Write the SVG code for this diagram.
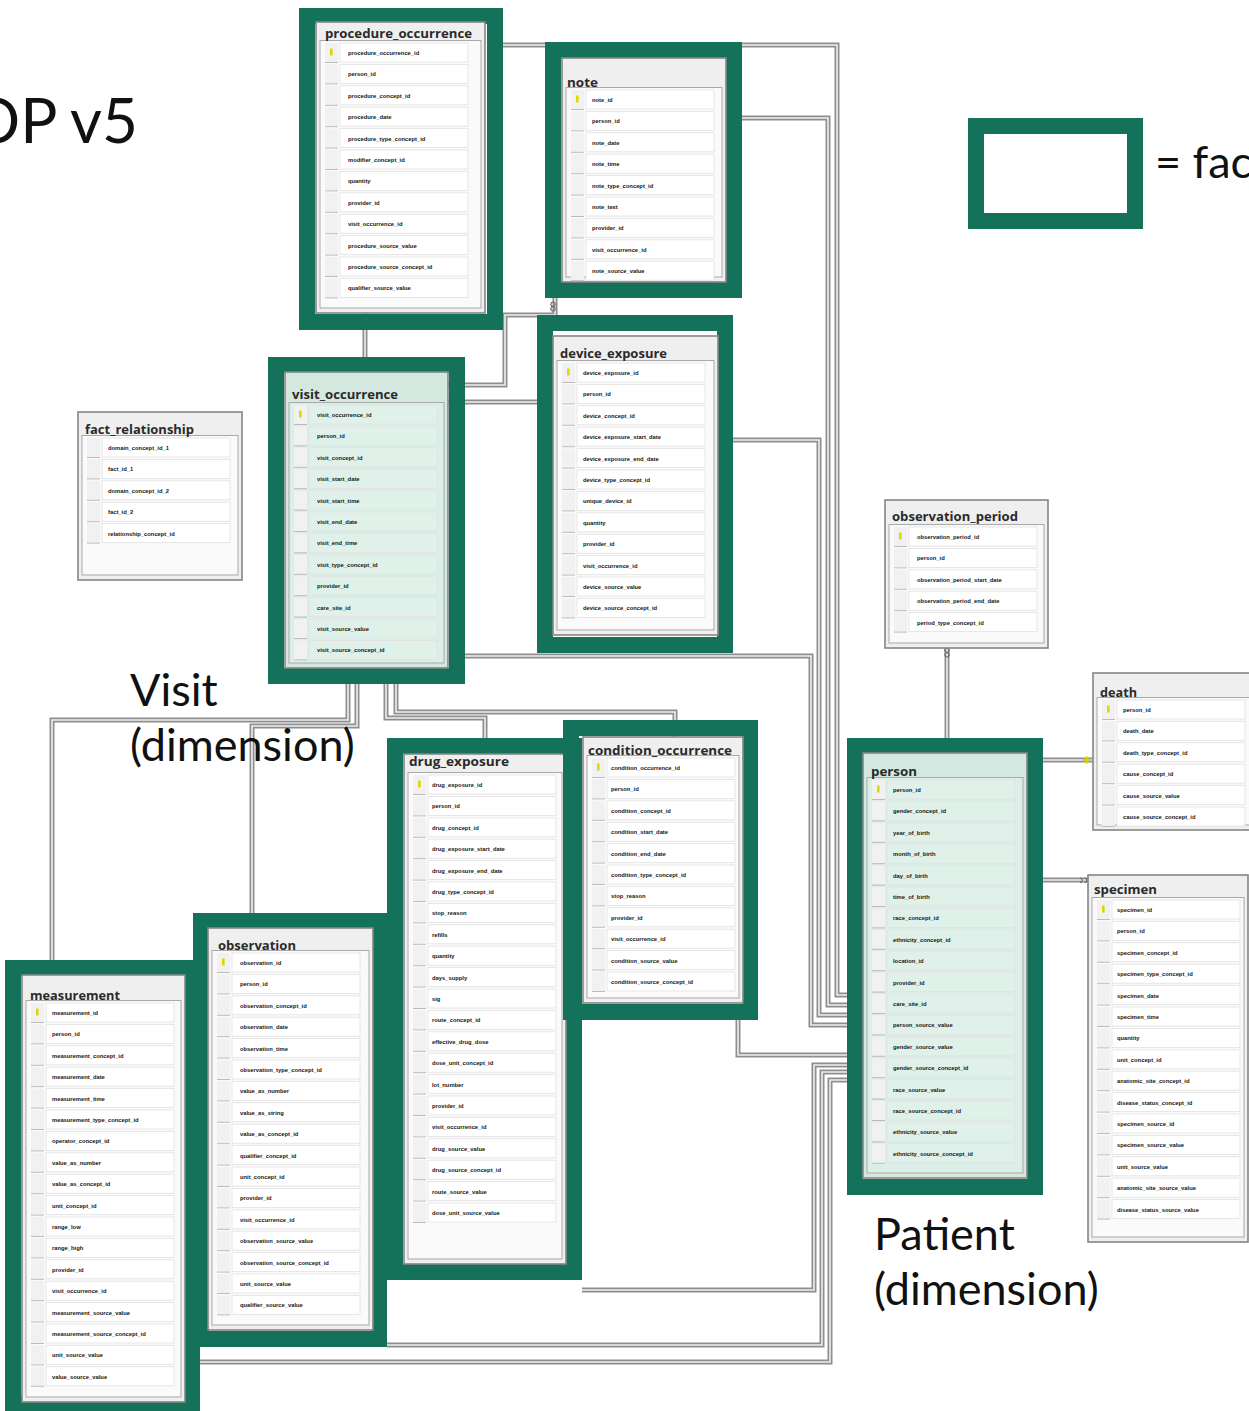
<svg xmlns="http://www.w3.org/2000/svg" xmlns:xlink="http://www.w3.org/1999/xlink" width="1249" height="1411" viewBox="0 0 1249 1411">
<style>
  .fr{fill:none;stroke:#15725a;stroke-width:16}
  .tb{fill:#efefef;stroke:#858585;stroke-width:1.6}
  .tbm{fill:#d3e8df;stroke:#858585;stroke-width:1.6}
  .ra{fill:#fafafa;stroke:#a9a9a9;stroke-width:1}
  .ram{fill:#dbeee7;stroke:#a9a9a9;stroke-width:1}
  .th{font-family:"Open Sans","Liberation Sans",sans-serif;font-weight:700;font-size:13px;fill:#2a2a2a}
  .c{font-family:"Liberation Sans",Arial,sans-serif;font-weight:700;font-size:5.8px;fill:#151515}
  .co{fill:none;stroke:#8e8e8e;stroke-width:5}
  .ci{fill:none;stroke:#efefef;stroke-width:1.6}
  .mk{fill:none;stroke:#6f6f6f;stroke-width:1.2}
  .big{font-family:Lato,"Liberation Sans",sans-serif;font-size:45px;fill:#111}
</style>
<defs>
  <g id="rw">
    <rect x="9" y="-10" width="13" height="19" fill="#f1f1f1"/>
    <path d="M9 9.5h13" stroke="#bcbcbc" stroke-width="1"/>
    <rect x="24" y="-10" width="128" height="19" stroke="#e1e1e1" stroke-width="0.8"/>
  </g>
  <g id="r5"><use href="#rw" y="0"/><use href="#rw" y="21.4"/><use href="#rw" y="42.8"/><use href="#rw" y="64.2"/><use href="#rw" y="85.6"/></g>
  <g id="r6"><use href="#r5"/><use href="#rw" y="107"/></g>
  <g id="r9"><use href="#r6"/><use href="#rw" y="128.4"/><use href="#rw" y="149.8"/><use href="#rw" y="171.2"/></g>
  <g id="r11"><use href="#r9"/><use href="#rw" y="192.6"/><use href="#rw" y="214"/></g>
  <g id="r12"><use href="#r11"/><use href="#rw" y="235.4"/></g>
  <g id="r15"><use href="#r12"/><use href="#rw" y="256.8"/><use href="#rw" y="278.2"/><use href="#rw" y="299.6"/></g>
  <g id="r17"><use href="#r15"/><use href="#rw" y="321"/><use href="#rw" y="342.4"/></g>
  <g id="r18"><use href="#r17"/><use href="#rw" y="363.8"/></g>
  <g id="r21"><use href="#r18"/><use href="#rw" y="385.2"/><use href="#rw" y="406.6"/><use href="#rw" y="428"/></g>
  <rect id="ky" x="14" y="-4.5" width="2.6" height="7" fill="#dcd800"/>
</defs>

<rect width="1249" height="1411" fill="#ffffff"/>

<!-- relationship lines -->
<g id="connectors">
  <path class="co" d="M503 45H837V995H863"/><path class="ci" d="M503 45H837V995H863"/>
  <path class="co" d="M742 118H828V1005H863"/><path class="ci" d="M742 118H828V1005H863"/>
  <path class="co" d="M733 440H819V1015H863"/><path class="ci" d="M733 440H819V1015H863"/>
  <path class="co" d="M465 656H811V1025H863"/><path class="ci" d="M465 656H811V1025H863"/>
  <path class="co" d="M738 1020V1055H863"/><path class="ci" d="M738 1020V1055H863"/>
  <path class="co" d="M582 1290H814V1065H863"/><path class="ci" d="M582 1290H814V1065H863"/>
  <path class="co" d="M387 1345H822V1072H863"/><path class="ci" d="M387 1345H822V1072H863"/>
  <path class="co" d="M200 1362H830V1080H863"/><path class="ci" d="M200 1362H830V1080H863"/>
  <path class="co" d="M947 648V753"/><path class="ci" d="M947 648V753"/>
  <path class="co" d="M1027 760H1093"/><path class="ci" d="M1027 760H1093"/>
  <path class="co" d="M1027 880H1088"/><path class="ci" d="M1027 880H1088"/>
  <path class="co" d="M365 313V372"/><path class="ci" d="M365 313V372"/>
  <path class="co" d="M555 282V315H505V385H448"/><path class="ci" d="M555 282V315H505V385H448"/>
  <path class="co" d="M553 402H448"/><path class="ci" d="M553 402H448"/>
  <path class="co" d="M348 668V720H52V975"/><path class="ci" d="M348 668V720H52V975"/>
  <path class="co" d="M357 668V726H252V928"/><path class="ci" d="M357 668V726H252V928"/>
  <path class="co" d="M386 668V718H485V754"/><path class="ci" d="M386 668V718H485V754"/>
  <path class="co" d="M396 668V712H675V737"/><path class="ci" d="M396 668V712H675V737"/>
  <!-- end marks: many-side loops and the key end at death -->
  <path class="mk" d="M947 652.5a2.2 2.2 0 1 1 0.01 0M947 657a2.2 2.2 0 1 1 0.01 0"/>
  <path class="mk" d="M1080 878a2.2 2.2 0 1 1 0 4.4M1084.5 878a2.2 2.2 0 1 1 0 4.4"/>
  <path class="mk" d="M553 306.5a2.2 2.2 0 1 1 0.01 0M553 311a2.2 2.2 0 1 1 0.01 0"/>
  <path d="M1083 760h7M1087 756.5v7" stroke="#d8d400" stroke-width="2.4" fill="none"/>
</g>

<!-- procedure_occurrence -->
<g id="procedure_occurrence">
  <rect class="fr" x="307" y="16" width="188" height="306"/>
  <g transform="translate(316,53)">
    <rect class="tb" x="0" y="-31" width="169" height="291"/>
    <rect class="ra" x="4" y="-12.5" width="161" height="267.5"/>
    <text class="th" x="9" y="-15" textLength="147" lengthAdjust="spacingAndGlyphs">procedure_occurrence</text>
    <use href="#r12" fill="#ffffff"/><use href="#ky"/>
    <text class="c"><tspan x="32" y="2">procedure_occurrence_id</tspan><tspan x="32" y="23.4">person_id</tspan><tspan x="32" y="44.8">procedure_concept_id</tspan><tspan x="32" y="66.2">procedure_date</tspan><tspan x="32" y="87.6">procedure_type_concept_id</tspan><tspan x="32" y="109">modifier_concept_id</tspan><tspan x="32" y="130.4">quantity</tspan><tspan x="32" y="151.8">provider_id</tspan><tspan x="32" y="173.2">visit_occurrence_id</tspan><tspan x="32" y="194.6">procedure_source_value</tspan><tspan x="32" y="216">procedure_source_concept_id</tspan><tspan x="32" y="237.4">qualifier_source_value</tspan></text>
  </g>
</g>

<!-- note -->
<g id="note">
  <rect class="fr" x="553" y="50" width="181" height="240"/>
  <g transform="translate(562,100)">
    <rect class="tb" x="0" y="-42" width="164" height="224"/>
    <rect class="ra" x="4" y="-12.5" width="156" height="189.5"/>
    <text class="th" x="5" y="-13" textLength="31" lengthAdjust="spacingAndGlyphs">note</text>
    <use href="#r9" fill="#ffffff"/><use href="#ky"/>
    <text class="c"><tspan x="30" y="2">note_id</tspan><tspan x="30" y="23.4">person_id</tspan><tspan x="30" y="44.8">note_date</tspan><tspan x="30" y="66.2">note_time</tspan><tspan x="30" y="87.6">note_type_concept_id</tspan><tspan x="30" y="109">note_text</tspan><tspan x="30" y="130.4">provider_id</tspan><tspan x="30" y="151.8">visit_occurrence_id</tspan><tspan x="30" y="173.2">note_source_value</tspan></text>
  </g>
</g>

<!-- device_exposure -->
<g id="device_exposure">
  <rect class="fr" x="545" y="323" width="180" height="322"/>
  <g transform="translate(553,373)">
    <rect class="tb" x="0" y="-37" width="165" height="299"/>
    <rect class="ra" x="4" y="-12.5" width="157" height="269.5"/>
    <text class="th" x="7" y="-15" textLength="107" lengthAdjust="spacingAndGlyphs">device_exposure</text>
    <use href="#r12" fill="#ffffff"/><use href="#ky"/>
    <text class="c"><tspan x="30" y="2">device_exposure_id</tspan><tspan x="30" y="23.4">person_id</tspan><tspan x="30" y="44.8">device_concept_id</tspan><tspan x="30" y="66.2">device_exposure_start_date</tspan><tspan x="30" y="87.6">device_exposure_end_date</tspan><tspan x="30" y="109">device_type_concept_id</tspan><tspan x="30" y="130.4">unique_device_id</tspan><tspan x="30" y="151.8">quantity</tspan><tspan x="30" y="173.2">provider_id</tspan><tspan x="30" y="194.6">visit_occurrence_id</tspan><tspan x="30" y="216">device_source_value</tspan><tspan x="30" y="237.4">device_source_concept_id</tspan></text>
  </g>
</g>

<!-- visit_occurrence -->
<g id="visit_occurrence">
  <rect class="fr" x="276" y="365" width="181" height="311"/>
  <g transform="translate(285,415)">
    <rect class="tbm" x="0" y="-43" width="163" height="296"/>
    <rect class="ram" x="4" y="-12.5" width="155" height="260.5"/>
    <text class="th" x="7" y="-16" textLength="106" lengthAdjust="spacingAndGlyphs">visit_occurrence</text>
    <use href="#r12" fill="#e0f1ea"/><use href="#ky"/>
    <text class="c"><tspan x="32" y="2">visit_occurrence_id</tspan><tspan x="32" y="23.4">person_id</tspan><tspan x="32" y="44.8">visit_concept_id</tspan><tspan x="32" y="66.2">visit_start_date</tspan><tspan x="32" y="87.6">visit_start_time</tspan><tspan x="32" y="109">visit_end_date</tspan><tspan x="32" y="130.4">visit_end_time</tspan><tspan x="32" y="151.8">visit_type_concept_id</tspan><tspan x="32" y="173.2">provider_id</tspan><tspan x="32" y="194.6">care_site_id</tspan><tspan x="32" y="216">visit_source_value</tspan><tspan x="32" y="237.4">visit_source_concept_id</tspan></text>
  </g>
</g>

<!-- fact_relationship -->
<g id="fact_relationship">
  <g transform="translate(78,448)">
    <rect class="tb" x="0" y="-36" width="164" height="168"/>
    <rect class="ra" x="4" y="-12.5" width="156" height="139.5"/>
    <text class="th" x="7" y="-14" textLength="109" lengthAdjust="spacingAndGlyphs">fact_relationship</text>
    <use href="#r5" fill="#ffffff"/>
    <text class="c"><tspan x="30" y="2">domain_concept_id_1</tspan><tspan x="30" y="23.4">fact_id_1</tspan><tspan x="30" y="44.8">domain_concept_id_2</tspan><tspan x="30" y="66.2">fact_id_2</tspan><tspan x="30" y="87.6">relationship_concept_id</tspan></text>
  </g>
</g>

<!-- observation_period -->
<g id="observation_period">
  <g transform="translate(885,537)">
    <rect class="tb" x="0" y="-37" width="163" height="148"/>
    <rect class="ra" x="4" y="-12.5" width="155" height="118.5"/>
    <text class="th" x="7" y="-16" textLength="126" lengthAdjust="spacingAndGlyphs">observation_period</text>
    <use href="#r5" fill="#ffffff"/><use href="#ky"/>
    <text class="c"><tspan x="32" y="2">observation_period_id</tspan><tspan x="32" y="23.4">person_id</tspan><tspan x="32" y="44.8">observation_period_start_date</tspan><tspan x="32" y="66.2">observation_period_end_date</tspan><tspan x="32" y="87.6">period_type_concept_id</tspan></text>
  </g>
</g>

<!-- death -->
<g id="death">
  <g transform="translate(1093,710)">
    <rect class="tb" x="0" y="-37" width="170" height="157"/>
    <rect class="ra" x="4" y="-12.5" width="162" height="127.5"/>
    <text class="th" x="7" y="-13" textLength="37" lengthAdjust="spacingAndGlyphs">death</text>
    <use href="#r6" fill="#ffffff"/><use href="#ky"/>
    <text class="c"><tspan x="30" y="2">person_id</tspan><tspan x="30" y="23.4">death_date</tspan><tspan x="30" y="44.8">death_type_concept_id</tspan><tspan x="30" y="66.2">cause_concept_id</tspan><tspan x="30" y="87.6">cause_source_value</tspan><tspan x="30" y="109">cause_source_concept_id</tspan></text>
  </g>
</g>

<!-- person -->
<g id="person">
  <rect class="fr" x="855" y="746" width="180" height="441"/>
  <g transform="translate(863,790)">
    <rect class="tbm" x="0" y="-37" width="164" height="425"/>
    <rect class="ram" x="4" y="-12.5" width="156" height="395.5"/>
    <text class="th" x="8" y="-14" textLength="46" lengthAdjust="spacingAndGlyphs">person</text>
    <use href="#r18" fill="#e0f1ea"/><use href="#ky"/>
    <text class="c"><tspan x="30" y="2">person_id</tspan><tspan x="30" y="23.4">gender_concept_id</tspan><tspan x="30" y="44.8">year_of_birth</tspan><tspan x="30" y="66.2">month_of_birth</tspan><tspan x="30" y="87.6">day_of_birth</tspan><tspan x="30" y="109">time_of_birth</tspan><tspan x="30" y="130.4">race_concept_id</tspan><tspan x="30" y="151.8">ethnicity_concept_id</tspan><tspan x="30" y="173.2">location_id</tspan><tspan x="30" y="194.6">provider_id</tspan><tspan x="30" y="216">care_site_id</tspan><tspan x="30" y="237.4">person_source_value</tspan><tspan x="30" y="258.8">gender_source_value</tspan><tspan x="30" y="280.2">gender_source_concept_id</tspan><tspan x="30" y="301.6">race_source_value</tspan><tspan x="30" y="323">race_source_concept_id</tspan><tspan x="30" y="344.4">ethnicity_source_value</tspan><tspan x="30" y="365.8">ethnicity_source_concept_id</tspan></text>
  </g>
</g>

<!-- specimen -->
<g id="specimen">
  <g transform="translate(1088,910)">
    <rect class="tb" x="0" y="-35" width="160" height="367"/>
    <rect class="ra" x="4" y="-12.5" width="152" height="339.5"/>
    <text class="th" x="6" y="-16" textLength="63" lengthAdjust="spacingAndGlyphs">specimen</text>
    <use href="#r15" fill="#ffffff"/><use href="#ky"/>
    <text class="c"><tspan x="29" y="2">specimen_id</tspan><tspan x="29" y="23.4">person_id</tspan><tspan x="29" y="44.8">specimen_concept_id</tspan><tspan x="29" y="66.2">specimen_type_concept_id</tspan><tspan x="29" y="87.6">specimen_date</tspan><tspan x="29" y="109">specimen_time</tspan><tspan x="29" y="130.4">quantity</tspan><tspan x="29" y="151.8">unit_concept_id</tspan><tspan x="29" y="173.2">anatomic_site_concept_id</tspan><tspan x="29" y="194.6">disease_status_concept_id</tspan><tspan x="29" y="216">specimen_source_id</tspan><tspan x="29" y="237.4">specimen_source_value</tspan><tspan x="29" y="258.8">unit_source_value</tspan><tspan x="29" y="280.2">anatomic_site_source_value</tspan><tspan x="29" y="301.6">disease_status_source_value</tspan></text>
  </g>
</g>

<!-- measurement -->
<g id="measurement">
  <rect class="fr" x="13" y="968" width="179" height="435"/>
  <g transform="translate(22,1013)">
    <rect class="tb" x="0" y="-38" width="163" height="427"/>
    <rect class="ra" x="4" y="-12.5" width="155" height="396.5"/>
    <text class="th" x="8" y="-13" textLength="90" lengthAdjust="spacingAndGlyphs">measurement</text>
    <use href="#r18" fill="#ffffff"/><use href="#ky"/>
    <text class="c"><tspan x="30" y="2">measurement_id</tspan><tspan x="30" y="23.4">person_id</tspan><tspan x="30" y="44.8">measurement_concept_id</tspan><tspan x="30" y="66.2">measurement_date</tspan><tspan x="30" y="87.6">measurement_time</tspan><tspan x="30" y="109">measurement_type_concept_id</tspan><tspan x="30" y="130.4">operator_concept_id</tspan><tspan x="30" y="151.8">value_as_number</tspan><tspan x="30" y="173.2">value_as_concept_id</tspan><tspan x="30" y="194.6">unit_concept_id</tspan><tspan x="30" y="216">range_low</tspan><tspan x="30" y="237.4">range_high</tspan><tspan x="30" y="258.8">provider_id</tspan><tspan x="30" y="280.2">visit_occurrence_id</tspan><tspan x="30" y="301.6">measurement_source_value</tspan><tspan x="30" y="323">measurement_source_concept_id</tspan><tspan x="30" y="344.4">unit_source_value</tspan><tspan x="30" y="365.8">value_source_value</tspan></text>
  </g>
</g>

<!-- observation -->
<g id="observation">
  <rect class="fr" x="201" y="921" width="178" height="418"/>
  <g transform="translate(208,963)">
    <rect class="tb" x="0" y="-35" width="165" height="402"/>
    <rect class="ra" x="4" y="-12.5" width="157" height="374.5"/>
    <text class="th" x="10" y="-13" textLength="78" lengthAdjust="spacingAndGlyphs">observation</text>
    <use href="#r17" fill="#ffffff"/><use href="#ky"/>
    <text class="c"><tspan x="32" y="2">observation_id</tspan><tspan x="32" y="23.4">person_id</tspan><tspan x="32" y="44.8">observation_concept_id</tspan><tspan x="32" y="66.2">observation_date</tspan><tspan x="32" y="87.6">observation_time</tspan><tspan x="32" y="109">observation_type_concept_id</tspan><tspan x="32" y="130.4">value_as_number</tspan><tspan x="32" y="151.8">value_as_string</tspan><tspan x="32" y="173.2">value_as_concept_id</tspan><tspan x="32" y="194.6">qualifier_concept_id</tspan><tspan x="32" y="216">unit_concept_id</tspan><tspan x="32" y="237.4">provider_id</tspan><tspan x="32" y="258.8">visit_occurrence_id</tspan><tspan x="32" y="280.2">observation_source_value</tspan><tspan x="32" y="301.6">observation_source_concept_id</tspan><tspan x="32" y="323">unit_source_value</tspan><tspan x="32" y="344.4">qualifier_source_value</tspan></text>
  </g>
</g>

<!-- drug_exposure -->
<g id="drug_exposure">
  <rect class="fr" x="395" y="746" width="179" height="526"/>
  <g transform="translate(404,785)">
    <rect class="tb" x="0" y="-31" width="162" height="510"/>
    <rect class="ra" x="4" y="-12.5" width="154" height="486.5"/>
    <text class="th" x="5" y="-19" textLength="100" lengthAdjust="spacingAndGlyphs">drug_exposure</text>
    <use href="#r21" fill="#ffffff"/><use href="#ky"/>
    <text class="c"><tspan x="28" y="2">drug_exposure_id</tspan><tspan x="28" y="23.4">person_id</tspan><tspan x="28" y="44.8">drug_concept_id</tspan><tspan x="28" y="66.2">drug_exposure_start_date</tspan><tspan x="28" y="87.6">drug_exposure_end_date</tspan><tspan x="28" y="109">drug_type_concept_id</tspan><tspan x="28" y="130.4">stop_reason</tspan><tspan x="28" y="151.8">refills</tspan><tspan x="28" y="173.2">quantity</tspan><tspan x="28" y="194.6">days_supply</tspan><tspan x="28" y="216">sig</tspan><tspan x="28" y="237.4">route_concept_id</tspan><tspan x="28" y="258.8">effective_drug_dose</tspan><tspan x="28" y="280.2">dose_unit_concept_id</tspan><tspan x="28" y="301.6">lot_number</tspan><tspan x="28" y="323">provider_id</tspan><tspan x="28" y="344.4">visit_occurrence_id</tspan><tspan x="28" y="365.8">drug_source_value</tspan><tspan x="28" y="387.2">drug_source_concept_id</tspan><tspan x="28" y="408.6">route_source_value</tspan><tspan x="28" y="430">dose_unit_source_value</tspan></text>
  </g>
</g>

<!-- condition_occurrence -->
<g id="condition_occurrence">
  <rect class="fr" x="571" y="728" width="179" height="284"/>
  <g transform="translate(583,768)">
    <rect class="tb" x="0" y="-31" width="160" height="266"/>
    <rect class="ra" x="4" y="-12.5" width="152" height="242.5"/>
    <text class="th" x="5" y="-13" textLength="144" lengthAdjust="spacingAndGlyphs">condition_occurrence</text>
    <use href="#r11" fill="#ffffff"/><use href="#ky"/>
    <text class="c"><tspan x="28" y="2">condition_occurrence_id</tspan><tspan x="28" y="23.4">person_id</tspan><tspan x="28" y="44.8">condition_concept_id</tspan><tspan x="28" y="66.2">condition_start_date</tspan><tspan x="28" y="87.6">condition_end_date</tspan><tspan x="28" y="109">condition_type_concept_id</tspan><tspan x="28" y="130.4">stop_reason</tspan><tspan x="28" y="151.8">provider_id</tspan><tspan x="28" y="173.2">visit_occurrence_id</tspan><tspan x="28" y="194.6">condition_source_value</tspan><tspan x="28" y="216">condition_source_concept_id</tspan></text>
  </g>
</g>

<!-- legend -->
<g id="legend">
  <rect class="fr" x="976" y="126" width="159" height="95" fill="#ffffff"/>
  <text class="big" x="1155" y="178">= fact</text>
</g>

<!-- headings and dimension labels -->
<text class="big" x="138" y="143" text-anchor="end" style="font-size:62px">OP v5</text>
<g id="visit_label"><text class="big"><tspan x="130" y="706">Visit</tspan><tspan x="130" y="761">(dimension)</tspan></text></g>
<g id="patient_label"><text class="big"><tspan x="874" y="1250">Patient</tspan><tspan x="874" y="1305">(dimension)</tspan></text></g>
</svg>
